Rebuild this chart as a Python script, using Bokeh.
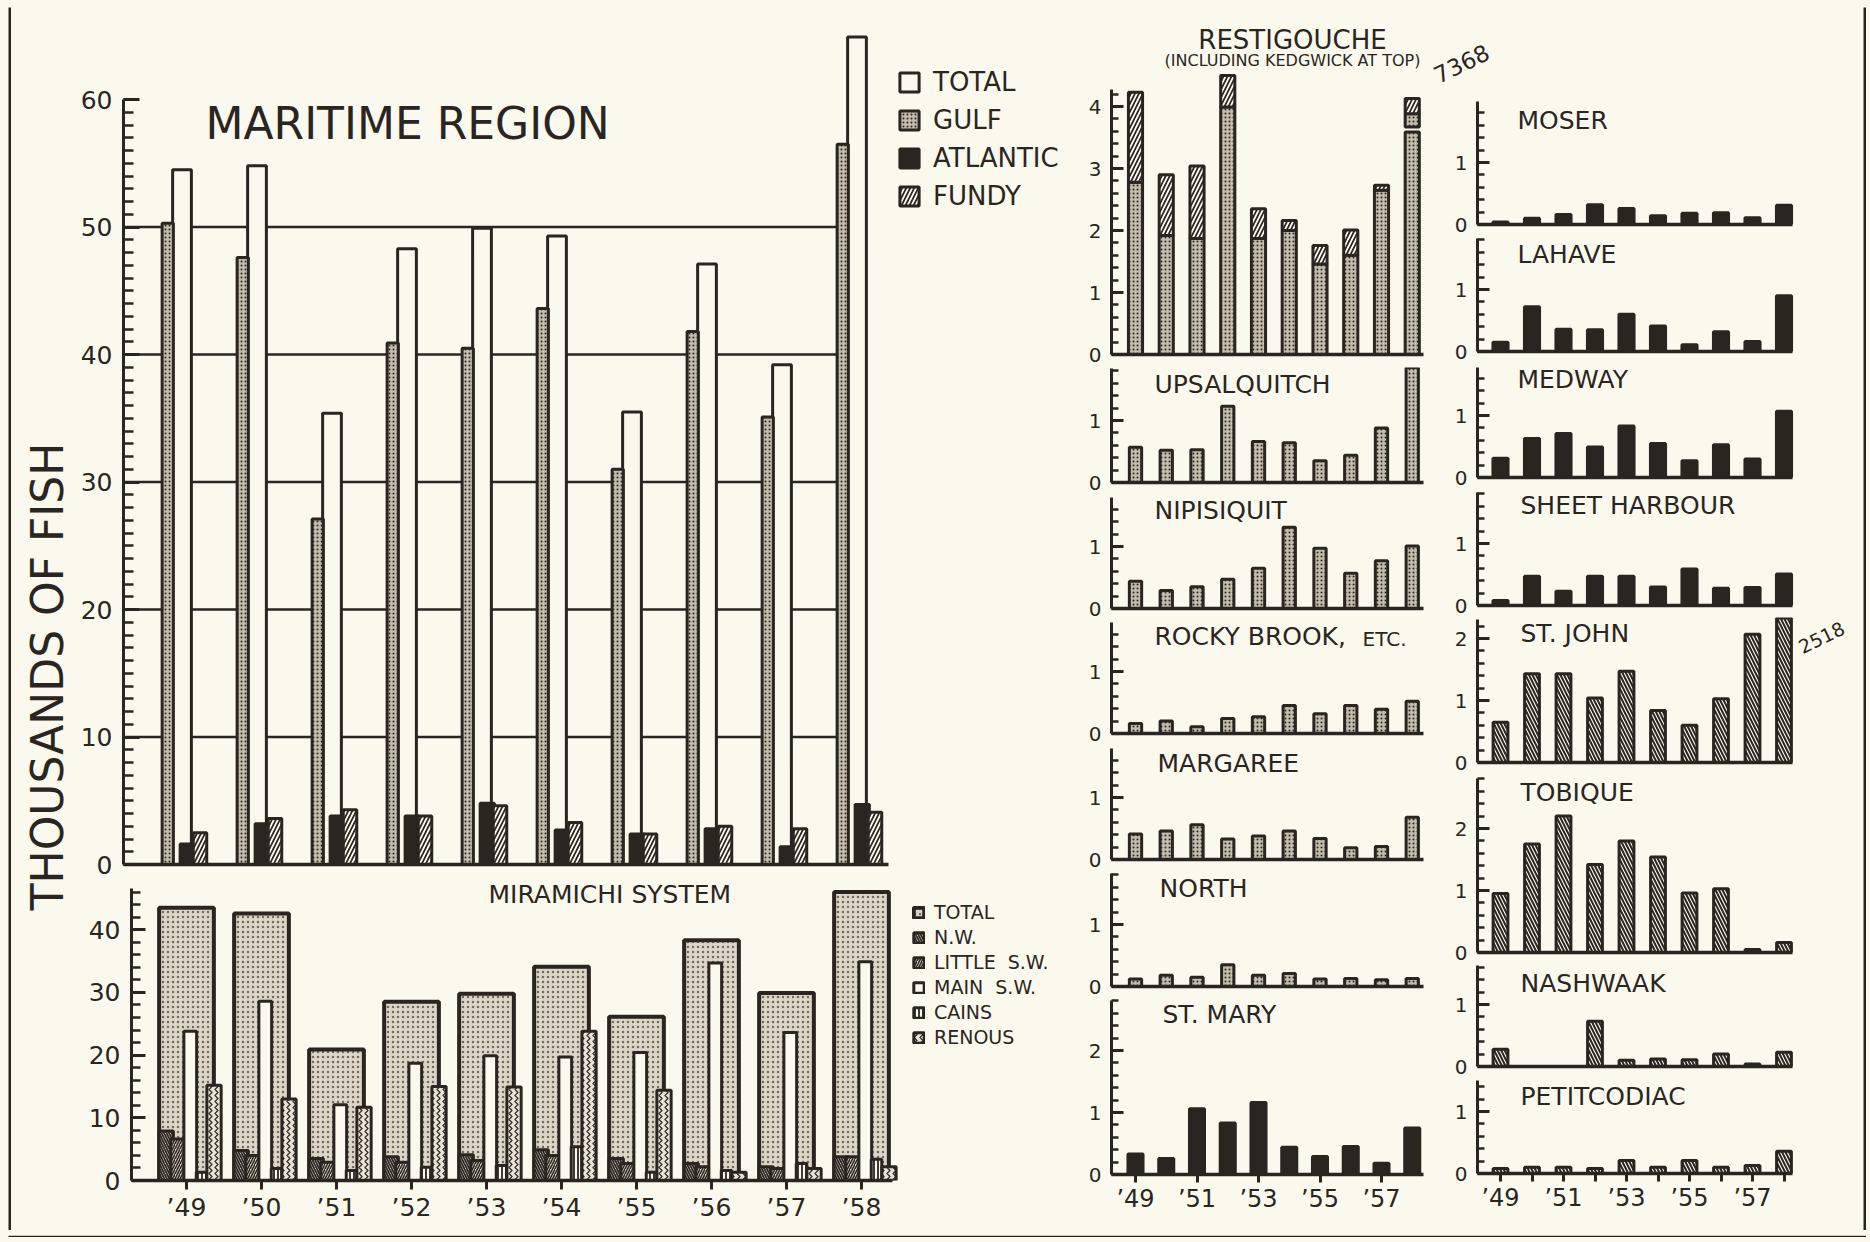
import math
from bokeh.plotting import figure
from bokeh.layouts import row, column
from bokeh.models import (Range1d, LinearAxis, FixedTicker, SingleIntervalTicker,
                          Label, Legend, LegendItem)
from bokeh.embed import file_html
from bokeh.resources import INLINE

# ---------------- data (thousands of fish) ----------------
years = ["’49", "’50", "’51", "’52", "’53", "’54", "’55", "’56", "’57", "’58"]
IDX = list(range(len(years)))

maritime_total = [54.5, 54.8, 35.4, 48.3, 49.9, 49.3, 35.5, 47.1, 39.2, 64.9]
maritime_gulf = [50.3, 47.6, 27.1, 40.9, 40.5, 43.6, 31.0, 41.8, 35.1, 56.5]
maritime_atlantic = [1.6, 3.2, 3.8, 3.8, 4.8, 2.7, 2.4, 2.8, 1.4, 4.7]
maritime_fundy = [2.5, 3.6, 4.3, 3.8, 4.6, 3.3, 2.4, 3.0, 2.8, 4.1]

mir_total = [43.5, 42.6, 20.9, 28.5, 29.8, 34.1, 26.1, 38.3, 29.9, 46.0]
mir_nw = [7.9, 4.8, 3.5, 3.8, 4.1, 4.9, 3.5, 2.7, 2.2, 3.8]
mir_little_sw = [6.6, 4.0, 2.9, 2.9, 3.2, 4.0, 2.7, 2.2, 1.9, 3.8]
mir_main_sw = [23.8, 28.6, 12.1, 18.7, 19.9, 19.7, 20.4, 34.7, 23.6, 34.9]
mir_cains = [1.3, 1.9, 1.6, 2.1, 2.4, 5.4, 1.3, 1.6, 2.7, 3.4]
mir_renous = [15.2, 13.0, 11.7, 15.0, 14.9, 23.8, 14.4, 1.3, 1.9, 2.2]

restig_total = [4.23, 2.90, 3.04, 4.50, 2.35, 2.16, 1.76, 2.01, 2.73, 7.368]
restig_gulf = [2.78, 1.92, 1.87, 3.99, 1.87, 2.00, 1.46, 1.60, 2.65, 7.12]
upsalquitch = [0.57, 0.52, 0.53, 1.23, 0.66, 0.64, 0.35, 0.44, 0.88, 1.93]
nipisiquit = [0.44, 0.29, 0.35, 0.47, 0.65, 1.31, 0.97, 0.57, 0.77, 1.01]
rocky_brook = [0.16, 0.20, 0.11, 0.24, 0.27, 0.45, 0.32, 0.45, 0.39, 0.52]
margaree = [0.41, 0.46, 0.56, 0.33, 0.38, 0.46, 0.34, 0.19, 0.21, 0.68]
north = [0.12, 0.18, 0.15, 0.35, 0.18, 0.21, 0.12, 0.13, 0.11, 0.13]
st_mary = [0.33, 0.26, 1.06, 0.83, 1.16, 0.44, 0.29, 0.45, 0.18, 0.75]

moser = [0.04, 0.10, 0.16, 0.32, 0.26, 0.14, 0.18, 0.19, 0.11, 0.31]
lahave = [0.15, 0.72, 0.36, 0.35, 0.60, 0.41, 0.11, 0.32, 0.16, 0.90]
medway = [0.31, 0.63, 0.71, 0.49, 0.83, 0.55, 0.27, 0.53, 0.30, 1.07]
sheet_harbour = [0.08, 0.47, 0.23, 0.47, 0.47, 0.30, 0.59, 0.28, 0.29, 0.51]
st_john = [0.65, 1.43, 1.43, 1.04, 1.47, 0.84, 0.60, 1.03, 2.07, 2.518]
tobique = [0.95, 1.75, 2.20, 1.42, 1.80, 1.54, 0.96, 1.03, 0.05, 0.16]
nashwaak = [0.28, 0.0, 0.0, 0.73, 0.10, 0.12, 0.11, 0.20, 0.04, 0.23]
petitcodiac = [0.08, 0.10, 0.10, 0.08, 0.21, 0.10, 0.21, 0.10, 0.13, 0.36]

# ---------------- style ----------------
INK = "#2b2521"
BG = "#fbf9ee"
FONT = "DejaVu Sans"

GULF = dict(fill_color="#c2bcad", hatch_pattern="dot", hatch_color=INK, hatch_scale=4,
            hatch_weight=1.2, line_color=INK, line_width=3)
ATL = dict(fill_color=INK, line_color=INK, line_width=3)
FUNDY = dict(fill_color=BG, hatch_pattern="right_diagonal_line", hatch_color=INK,
             hatch_scale=8, hatch_weight=1.7, line_color=INK, line_width=3)
FUNDY_B = dict(fill_color=BG, hatch_pattern="left_diagonal_line", hatch_color=INK,
               hatch_scale=7, hatch_weight=2, line_color=INK, line_width=3)
WHITE = dict(fill_color=BG, line_color=INK, line_width=3)


def make_fig(w, h, xr, yr, left, right, top, bottom, bg=BG):
    return figure(width=int(w), height=int(h), x_range=Range1d(*xr), y_range=Range1d(*yr),
                  output_backend="svg", toolbar_location=None,
                  x_axis_type=None, y_axis_type=None, frame_align=False,
                  min_border_left=int(left), min_border_right=int(right),
                  min_border_top=int(top), min_border_bottom=int(bottom),
                  background_fill_color=bg, border_fill_color=bg,
                  outline_line_color=None)


def yaxis(bounds, interval, minor, size, tick_in, minor_in, standoff, lw=3):
    return LinearAxis(bounds=bounds,
                      ticker=SingleIntervalTicker(interval=interval, num_minor_ticks=minor),
                      axis_line_color=INK, axis_line_width=lw,
                      major_tick_line_color=INK, major_tick_line_width=lw,
                      minor_tick_line_color=INK, minor_tick_line_width=lw - 0.5,
                      major_tick_in=tick_in, major_tick_out=0,
                      minor_tick_in=minor_in, minor_tick_out=0,
                      major_label_text_font=FONT, major_label_text_font_size=size,
                      major_label_text_color=INK, major_label_standoff=standoff)


def xaxis(bounds, ticks=(), overrides=None, size="24px", tick_out=0, standoff=0, lw=3.5):
    ax = LinearAxis(bounds=bounds, ticker=FixedTicker(ticks=list(ticks), minor_ticks=[]),
                    axis_line_color=INK, axis_line_width=lw,
                    major_tick_line_color=INK, major_tick_line_width=3,
                    major_tick_in=0, major_tick_out=tick_out,
                    minor_tick_in=0, minor_tick_out=0,
                    major_label_text_font=FONT,
                    major_label_text_font_size=size if ticks else "0px",
                    major_label_text_color=INK, major_label_standoff=standoff)
    if overrides:
        ax.major_label_overrides = overrides
    return ax


def label(p, x, y, text, size, align="left", angle=0.0):
    p.add_layout(Label(x=x, y=y, text=text, text_font=FONT, text_font_size=size,
                       text_color=INK, text_align=align, text_baseline="middle",
                       angle=angle))


def offs(o):
    return [i + o for i in IDX]


def block(w, h, bg):
    return make_fig(w, h, (0, 1), (0, 1), 0, 0, 0, 0, bg=bg)


def hstrip(w, h, y0, y1):
    # a strip of page in pixel coordinates holding one horizontal rule of the frame
    p = make_fig(w, h, (0, w), (h, 0), 0, 0, 0, 0)
    p.quad(left=[8], right=[w], top=[y0], bottom=[y1], fill_color=INK, line_color=None)
    return p


TOP, BOT = 7, 1230          # inside of the frame border
CH = BOT - TOP
W = 1866

# ---------------- y-label strip ----------------
strip = make_fig(64, CH, (11, 75), (BOT, TOP), 0, 0, 0, 0)
label(strip, 47, 662, "THOUSANDS  OF  FISH", "44px", align="center", angle=math.pi / 2)

# ---------------- Maritime region ----------------
M_FIRST, M_SP = 186.0, 75.0
M_Z, M_K = 864, 12.75
M_B = 879
mxs = (123 - M_FIRST) / M_SP
mxe = (1075 - M_FIRST) / M_SP
mfx = lambda F: (F - M_FIRST) / M_SP
mfy = lambda F: (M_Z - F) / M_K
main = make_fig(1000, M_B - TOP, (mxs, mxe), (0, (M_Z - 20) / M_K), 123 - 75, 0, 20 - TOP, M_B - M_Z)
main.add_layout(yaxis((0, 60), 10, 10, "25px", 16, 10, 11), "left")
main.add_layout(xaxis((mxs, mfx(888))), "below")
grid_vals = [10, 20, 30, 40, 50]
main.segment(x0=[mxs] * len(grid_vals), x1=[mfx(843)] * len(grid_vals), y0=grid_vals,
             y1=grid_vals, line_color=INK, line_width=2.5, level="underlay")
r_tot = main.vbar(x=offs(-0.06), top=maritime_total, bottom=0, width=0.25, **WHITE)
r_gulf = main.vbar(x=offs(-0.25), top=maritime_gulf, bottom=0, width=0.15, **GULF)
r_atl = main.vbar(x=offs(0.01), top=maritime_atlantic, bottom=0, width=0.19, **ATL)
r_fun = main.vbar(x=offs(0.18), top=maritime_fundy, bottom=0, width=0.18, **FUNDY)
label(main, mfx(205), mfy(123), "MARITIME  REGION", "44px")
leg = Legend(items=[LegendItem(label="TOTAL", renderers=[r_tot]),
                    LegendItem(label="GULF", renderers=[r_gulf]),
                    LegendItem(label="ATLANTIC", renderers=[r_atl]),
                    LegendItem(label="FUNDY", renderers=[r_fun])],
             location=(897 - 123, M_Z - 211), glyph_width=24, glyph_height=24,
             label_text_font=FONT, label_text_font_size="26px", label_text_color=INK,
             spacing=8, padding=0, margin=0, label_standoff=12,
             border_line_color=None, background_fill_alpha=0)
main.add_layout(leg)

# ---------------- Miramichi system ----------------
R_Z, R_K = 1180, 6.27
rxs = (131 - M_FIRST) / M_SP
rfy = lambda F: (R_Z - F) / R_K
mir = make_fig(1000, BOT - M_B, (rxs, mxe), (0, (R_Z - M_B) / R_K), 131 - 75, 0, 0, BOT - R_Z)
mir.add_layout(yaxis((0, 46.6), 10, 5, "25px", 14, 9, 11), "left")
mir.add_layout(xaxis((rxs, mfx(892)), IDX, {i: years[i] for i in IDX}, "25px", 9, 3), "below")
MIR_TOT = dict(fill_color="#dcd6c8", hatch_pattern="dot", hatch_color="#6f695e", hatch_scale=5,
               hatch_weight=1, line_color=INK, line_width=4)
NW = dict(fill_color=BG, hatch_pattern="left_diagonal_line", hatch_color=INK, hatch_scale=5,
          hatch_weight=1.8, line_color=INK, line_width=3)
LSW = dict(fill_color="#d8d2c3", hatch_pattern="right_diagonal_line", hatch_color=INK,
           hatch_scale=5, hatch_weight=1.5, line_color=INK, line_width=3)
CAINS = dict(fill_color=BG, hatch_pattern="vertical_line", hatch_color=INK, hatch_scale=4,
             hatch_weight=1.8, line_color=INK, line_width=3)
RENOUS = dict(fill_color="#e8e3d6", hatch_pattern="vertical_wave", hatch_color=INK,
              hatch_scale=6, hatch_weight=1.2, line_color=INK, line_width=3)
q_tot = mir.vbar(x=offs(0.0), top=mir_total, bottom=0, width=0.73, **MIR_TOT)
q_nw = mir.vbar(x=offs(-0.27), top=mir_nw, bottom=0, width=0.19, **NW)
q_lsw = mir.vbar(x=offs(-0.12), top=mir_little_sw, bottom=0, width=0.18, **LSW)
q_main = mir.vbar(x=offs(0.05), top=mir_main_sw, bottom=0, width=0.17, **WHITE)
q_cains = mir.vbar(x=offs(0.2), top=mir_cains, bottom=0, width=0.14, **CAINS)
q_ren = mir.vbar(x=offs(0.367), top=mir_renous, bottom=0, width=0.19, **RENOUS)
label(mir, mfx(488), rfy(894), "MIRAMICHI  SYSTEM", "25px")
leg2 = Legend(items=[LegendItem(label="TOTAL", renderers=[q_tot]),
                     LegendItem(label="N.W.", renderers=[q_nw]),
                     LegendItem(label="LITTLE  S.W.", renderers=[q_lsw]),
                     LegendItem(label="MAIN  S.W.", renderers=[q_main]),
                     LegendItem(label="CAINS", renderers=[q_cains]),
                     LegendItem(label="RENOUS", renderers=[q_ren])],
              location=(912 - 131, R_Z - 1048), glyph_width=13, glyph_height=13,
              label_text_font=FONT, label_text_font_size="19px", label_text_color=INK,
              spacing=3, padding=0, margin=0, label_standoff=9,
              border_line_color=None, background_fill_alpha=0)
mir.add_layout(leg2)

# ---------------- small panels ----------------
K = 62.0
MID = dict(x0=1075, x1=1424, axis_x=1111, first=1135, sp=30.75, axis_end=1423)
RGT = dict(x0=1424, x1=1863, axis_x=1477, first=1500, sp=31.5, axis_end=1792)


def small(col, T, Z, B, axis_top, ticks=None, overrides=None):
    xs = (col["axis_x"] - col["first"]) / col["sp"]
    xe = (col["x1"] - col["first"]) / col["sp"]
    p = make_fig(col["x1"] - col["x0"], B - T, (xs, xe), (0, (Z - T) / K),
                 col["axis_x"] - col["x0"], 0, 0, B - Z)
    p.add_layout(yaxis((0, axis_top), 1, 5, "20px", 12, 7, 10), "left")
    xb = (xs, (col["axis_end"] - col["first"]) / col["sp"])
    if ticks is None:
        p.add_layout(xaxis(xb), "below")
    else:
        p.add_layout(xaxis(xb, ticks, overrides, "24px", 8, 2), "below")
    fx = lambda F: (F - col["first"]) / col["sp"]
    fy = lambda F: (Z - F) / K
    return p, fx, fy


odd_labels = {i: (years[i] if i % 2 == 0 else "") for i in IDX}
TS = "25px"

# Restigouche (gulf lower part, Kedgwick hatched on top; 1958 bar broken)
BREAK_LO, BREAK_HI, CAP = 3.59, 3.67, 4.13
restig, fx, fy = small(MID, TOP, 354, 367, 4.27)
shift = restig_total[9] - CAP
rg_top = restig_gulf[:9] + [BREAK_LO]
restig.vbar(x=IDX, top=rg_top, bottom=0, width=0.46, **GULF)
restig.vbar(x=IDX[:9], top=restig_total[:9], bottom=restig_gulf[:9], width=0.46, **FUNDY)
restig.vbar(x=[9], top=[restig_gulf[9] - shift], bottom=[BREAK_HI], width=0.46, **GULF)
restig.vbar(x=[9], top=[restig_total[9] - shift], bottom=[restig_gulf[9] - shift], width=0.46, **FUNDY)
label(restig, fx(1292), fy(39), "RESTIGOUCHE", "26px", align="center")
label(restig, fx(1292), fy(60), "(INCLUDING KEDGWICK AT TOP)", "16px", align="center")

upsal, fx, fy = small(MID, 367, 482, 494, 1.84)
upsal.vbar(x=IDX, top=upsalquitch, bottom=0, width=0.4, **GULF)
label(upsal, fx(1154), fy(384), "UPSALQUITCH", TS)

nipis, fx, fy = small(MID, 494, 608, 620, 1.79)
nipis.vbar(x=IDX, top=nipisiquit, bottom=0, width=0.4, **GULF)
label(nipis, fx(1154), fy(510), "NIPISIQUIT", TS)

rocky, fx, fy = small(MID, 620, 733, 745, 1.79)
rocky.vbar(x=IDX, top=rocky_brook, bottom=0, width=0.4, **GULF)
label(rocky, fx(1154), fy(636), "ROCKY   BROOK,", TS)
label(rocky, fx(1362), fy(638), "ETC.", "20px")

marg, fx, fy = small(MID, 745, 859, 871, 1.79)
marg.vbar(x=IDX, top=margaree, bottom=0, width=0.4, **GULF)
label(marg, fx(1157), fy(763), "MARGAREE", TS)

nort, fx, fy = small(MID, 871, 986, 998, 1.82)
nort.vbar(x=IDX, top=north, bottom=0, width=0.4, **GULF)
label(nort, fx(1159), fy(888), "NORTH", TS)

stm, fx, fy = small(MID, 998, 1174, BOT, 2.8, ticks=[0, 2, 4, 6, 8], overrides=odd_labels)
stm.vbar(x=IDX, top=st_mary, bottom=0, width=0.49, **ATL)
label(stm, fx(1162), fy(1014), "ST. MARY", TS)

mid = column(restig, upsal, nipis, rocky, marg, nort, stm, spacing=0)

# note for the broken Restigouche 1958 bar
topfig = make_fig(1863 - 1424, 92 - TOP, (1424, 1863), (92, TOP), 0, 0, 0, 0)
label(topfig, 1461, 63, "7368", "23px", align="center", angle=0.45)

mos, fx, fy = small(RGT, 92, 224, 236, 1.98)
mos.vbar(x=IDX, top=moser, bottom=0, width=0.48, **ATL)
label(mos, fx(1517), fy(120), "MOSER", TS)

lah, fx, fy = small(RGT, 236, 351, 363, 1.82)
lah.vbar(x=IDX, top=lahave, bottom=0, width=0.48, **ATL)
label(lah, fx(1517), fy(254), "LAHAVE", TS)

med, fx, fy = small(RGT, 363, 477, 489, 1.77)
med.vbar(x=IDX, top=medway, bottom=0, width=0.48, **ATL)
label(med, fx(1517), fy(379), "MEDWAY", TS)

she, fx, fy = small(RGT, 489, 605, 617, 1.82)
she.vbar(x=IDX, top=sheet_harbour, bottom=0, width=0.48, **ATL)
label(she, fx(1520), fy(505), "SHEET  HARBOUR", TS)

STJ_CAP = 2.33
stj, fx, fy = small(RGT, 617, 762, 774, 2.3)
stj.vbar(x=IDX, top=[min(v, STJ_CAP) for v in st_john], bottom=0, width=0.47, **FUNDY_B)
label(stj, fx(1520), fy(633), "ST. JOHN", TS)
label(stj, fx(1821), fy(637), "2518", "19px", align="center", angle=0.45)

tob, fx, fy = small(RGT, 774, 952, 964, 2.8)
tob.vbar(x=IDX, top=tobique, bottom=0, width=0.47, **FUNDY_B)
label(tob, fx(1520), fy(792), "TOBIQUE", TS)

nas, fx, fy = small(RGT, 964, 1066, 1078, 1.63)
nas.vbar(x=IDX, top=nashwaak, bottom=0, width=0.47, **FUNDY_B)
label(nas, fx(1520), fy(983), "NASHWAAK", TS)

pet, fx, fy = small(RGT, 1078, 1173, BOT, 1.5, ticks=IDX, overrides=odd_labels)
pet.vbar(x=IDX, top=petitcodiac, bottom=0, width=0.47, **FUNDY_B)
label(pet, fx(1520), fy(1096), "PETITCODIAC", TS)

rgt = column(topfig, mos, lah, med, she, stj, tob, nas, pet, spacing=0)

# ---------------- frame border and page layout ----------------
content = row(block(8, CH, BG), block(3, CH, INK), strip, column(main, mir, spacing=0),
              mid, rgt, block(3, CH, INK), spacing=0)
root = column(hstrip(W, TOP, 4, TOP), content, hstrip(W, 7, 0, 3), spacing=0)

html = file_html(root, INLINE, title="Maritime salmon")
html = html.replace("</head>", f"<style>html, body {{ background: {BG}; }}</style></head>", 1)
open("out.html", "w").write(html)
